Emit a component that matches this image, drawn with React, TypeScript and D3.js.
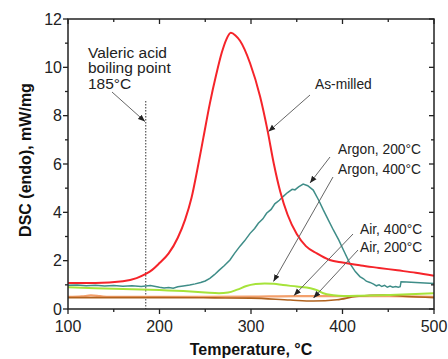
import React from "react";
import * as d3 from "d3";

const xTicks = [100, 200, 300, 400, 500];
const yTicks = [0, 2, 4, 6, 8, 10, 12];

const asMilledT = [100, 130, 160, 175, 185, 192, 200, 210, 220, 228, 235, 241, 248, 255, 262, 268, 273, 278, 283, 288, 299, 310, 318, 325, 332, 340, 350, 360, 372, 386, 400, 420, 440, 460, 480, 500];
const asMilledV = [1.08, 1.08, 1.15, 1.28, 1.45, 1.62, 1.9, 2.3, 2.95, 3.7, 4.6, 5.7, 7.1, 8.5, 9.7, 10.6, 11.15, 11.43, 11.32, 11.1, 10.17, 8.78, 7.4, 6.0, 4.85, 3.9, 3.1, 2.6, 2.3, 2.03, 1.92, 1.8, 1.7, 1.6, 1.5, 1.38];

const argon200T = [100, 110, 120, 130, 140, 150, 160, 170, 180, 190, 200, 205, 210, 215, 220, 226, 233, 239, 245, 250, 255, 260, 265, 271, 277, 282, 288, 293, 299, 304, 308, 313, 317, 322, 326, 331, 335, 340, 345, 348, 352, 357, 362, 368, 374, 379, 385, 390, 396, 401, 408, 414, 419, 423, 426, 430, 434, 437, 440, 443, 446, 449, 452, 455, 458, 461, 463, 464, 470, 480, 490, 500];
const argon200V = [0.98, 0.99, 0.96, 0.98, 0.95, 0.97, 0.94, 0.96, 0.93, 0.97, 0.9, 0.87, 0.89, 0.86, 0.92, 0.95, 0.99, 1.04, 1.1, 1.16, 1.27, 1.42, 1.6, 1.8, 2.03, 2.3, 2.6, 2.82, 3.13, 3.33, 3.55, 3.73, 3.96, 4.12, 4.35, 4.5, 4.65, 4.82, 4.95, 4.93, 5.05, 5.17, 5.1, 4.92, 4.5, 4.1, 3.65, 3.27, 2.85, 2.44, 1.89, 1.55, 1.34, 1.25, 1.15, 1.1, 1.03, 0.96, 1.0, 0.93, 0.98, 0.9, 0.95, 0.9, 0.93, 0.9, 0.92, 1.13, 1.12, 1.1, 1.08, 1.06];

const argon400T = [100, 130, 160, 190, 226, 250, 265, 275, 285, 295, 305, 315, 325, 335, 350, 365, 372, 379, 390, 401, 420, 452, 480, 500];
const argon400V = [0.9, 0.86, 0.83, 0.8, 0.74, 0.68, 0.65, 0.68, 0.8, 0.95, 1.03, 1.06, 1.04, 0.99, 0.93, 0.86, 0.78, 0.65, 0.57, 0.54, 0.55, 0.58, 0.62, 0.65];

const air400T = [100, 115, 125, 135, 145, 200, 250, 300, 350, 400, 450, 500];
const air400V = [0.5, 0.52, 0.56, 0.53, 0.5, 0.5, 0.5, 0.51, 0.53, 0.53, 0.53, 0.5];

const air200T = [100, 150, 200, 260, 300, 343, 368, 394, 415, 445, 470, 500];
const air200V = [0.47, 0.47, 0.47, 0.46, 0.45, 0.37, 0.33, 0.38, 0.52, 0.58, 0.52, 0.47];

const W = 448, H = 359;
const M = { left: 68, right: 434, top: 19, bottom: 309 };

export default function App() {
  const x = d3.scaleLinear().domain([100, 500]).range([M.left, M.right]);
  const y = d3.scaleLinear().domain([0, 12]).range([M.bottom, M.top]);
  const smooth = d3.line<[number, number]>().x(d => x(d[0])).y(d => y(d[1])).curve(d3.curveMonotoneX);
  const straight = d3.line<[number, number]>().x(d => x(d[0])).y(d => y(d[1]));
  const pts = (t: number[], v: number[]) => t.map((tt, i) => [tt, v[i]] as [number, number]);
  const xMinor = d3.range(100, 501, 50);
  const yMinor = d3.range(0, 12.01, 1);
  const font = "Arial, 'Liberation Sans', sans-serif";
  const arrows = [
    { x1: 112, y1: 92, x2: 145, y2: 121.5 },
    { x1: 310, y1: 95, x2: 268.5, y2: 131.5 },
    { x1: 330, y1: 157, x2: 310, y2: 183 },
    { x1: 333, y1: 177, x2: 273.5, y2: 281.5 },
    { x1: 353, y1: 234, x2: 294, y2: 295.5 },
    { x1: 358, y1: 250, x2: 313.5, y2: 298 },
  ];
  return (
    <svg width={W} height={H} style={{ position: "absolute", left: 0, top: 0, background: "#fff" }} fontFamily={font}>
      <defs>
        <marker id="ah" viewBox="0 0 10 10" refX="10" refY="5" markerWidth="7" markerHeight="7" markerUnits="userSpaceOnUse" orient="auto">
          <path d="M0,1 L10,5 L0,9 Z" fill="#222" />
        </marker>
      </defs>
      <line x1={x(185)} x2={x(185)} y1={101} y2={M.bottom} stroke="#333" strokeWidth={1} strokeDasharray="1.5,1.5" />
      <path d={smooth(pts(air400T, air400V)) || ""} fill="none" stroke="#f3a06c" strokeWidth={2.2} />
      <path d={smooth(pts(air200T, air200V)) || ""} fill="none" stroke="#b0621e" strokeWidth={1.6} />
      <path d={smooth(pts(argon400T, argon400V)) || ""} fill="none" stroke="#a6e33a" strokeWidth={2} />
      <path d={straight(pts(argon200T, argon200V)) || ""} fill="none" stroke="#3f8d88" strokeWidth={1.5} />
      <path d={smooth(pts(asMilledT, asMilledV)) || ""} fill="none" stroke="#f5242a" strokeWidth={2} />
      <rect x={M.left} y={M.top} width={M.right - M.left} height={M.bottom - M.top} fill="none" stroke="#222" strokeWidth={1.5} />
      {xMinor.map(t => {
        const len = t % 100 === 0 ? 5 : 3;
        return (
          <g key={"x" + t}>
            <line x1={x(t)} x2={x(t)} y1={M.bottom} y2={M.bottom + len} stroke="#222" strokeWidth={1.3} />
            <line x1={x(t)} x2={x(t)} y1={M.top} y2={M.top + len} stroke="#222" strokeWidth={1.3} />
          </g>
        );
      })}
      {yMinor.map(v => {
        const len = v % 2 === 0 ? 5 : 3;
        return (
          <g key={"y" + v}>
            <line x1={M.left - len} x2={M.left} y1={y(v)} y2={y(v)} stroke="#222" strokeWidth={1.3} />
            <line x1={M.right - len} x2={M.right} y1={y(v)} y2={y(v)} stroke="#222" strokeWidth={1.3} />
          </g>
        );
      })}
      {xTicks.map(t => (
        <text key={"xl" + t} x={x(t)} y={332} textAnchor="middle" fontSize={16} fill="#222">{t}</text>
      ))}
      {yTicks.map(v => (
        <text key={"yl" + v} x={62} y={y(v) + 5.8} textAnchor="end" fontSize={16} fill="#222">{v}</text>
      ))}
      <text x={251} y={355} textAnchor="middle" fontSize={16} fontWeight="bold" fill="#111">Temperature, °C</text>
      <text transform={`translate(31,160) rotate(-90)`} textAnchor="middle" fontSize={16} fontWeight="bold" fill="#111">DSC (endo), mW/mg</text>
      {arrows.map((a, i) => (
        <line key={"a" + i} x1={a.x1} y1={a.y1} x2={a.x2} y2={a.y2} stroke="#666" strokeWidth={1} markerEnd="url(#ah)" />
      ))}
      <g fontSize={15.5} fill="#222">
        <text x={88} y={57.5}>Valeric acid</text>
        <text x={88} y={73}>boiling point</text>
        <text x={88} y={88.5}>185°C</text>
      </g>
      <g fontSize={13.8} fill="#222">
        <text x={315} y={89}>As-milled</text>
        <text x={338} y={153.5}>Argon, 200°C</text>
        <text x={338} y={173.5}>Argon, 400°C</text>
        <text x={360} y={233.5}>Air, 400°C</text>
        <text x={360} y={251.7}>Air, 200°C</text>
      </g>
    </svg>
  );
}
